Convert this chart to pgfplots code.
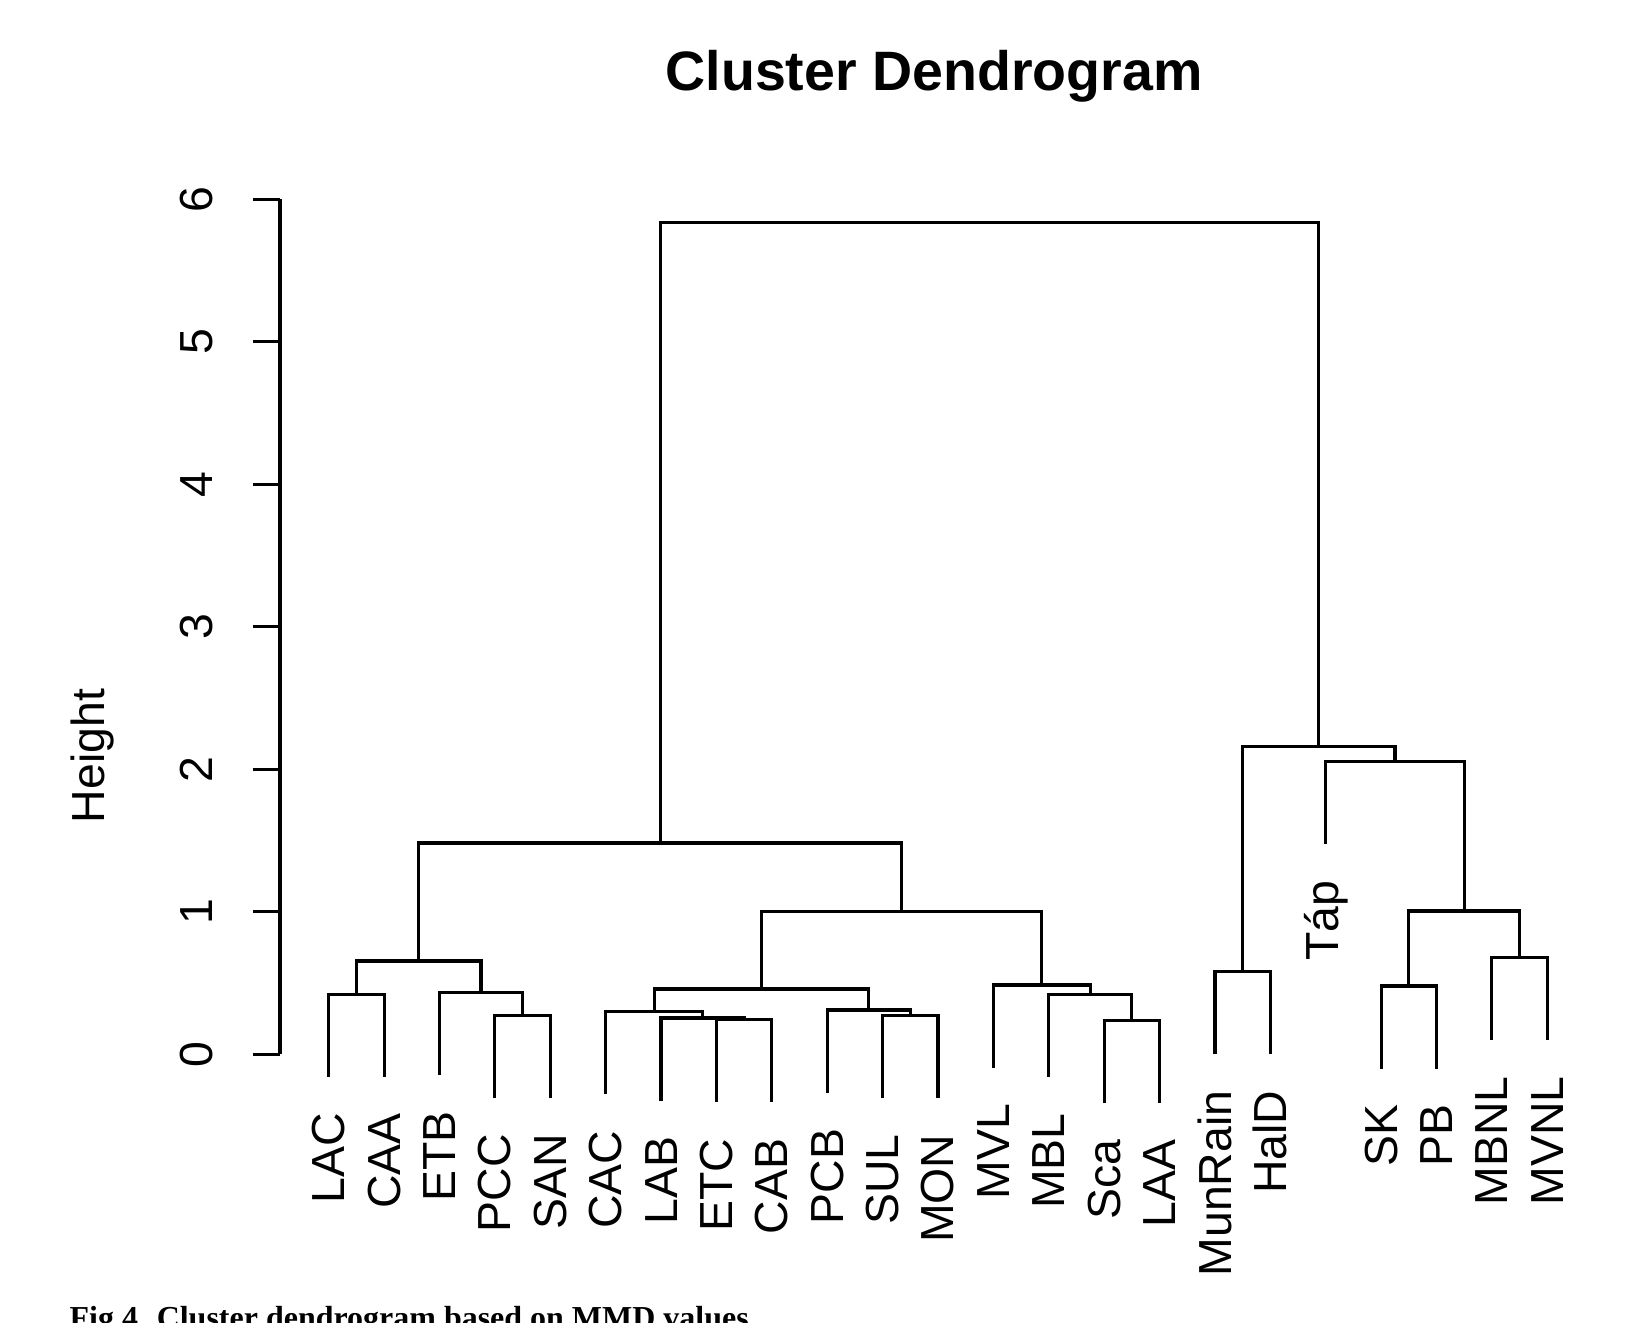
\documentclass[border=0pt]{standalone}
\usepackage{fontspec}
\setmainfont{Liberation Sans}
\newfontfamily\capfont{Liberation Serif}
\usepackage{pgfplots}
\pgfplotsset{compat=1.18}
\tikzset{
  seg/.style={black, line width=0.9pt, line join=miter, no marks},
  leaf/.style={rotate=90, anchor=east, inner sep=0pt,
               font=\fontsize{13.2}{15}\selectfont},
}

\begin{document}
\begin{tikzpicture}
\useasboundingbox (0,0) rectangle (162.6mm,132.3mm);

% title, axis label and the (cut) figure caption
\node[anchor=base, inner sep=0pt, font=\bfseries\fontsize{15.8}{18}\selectfont]
  at (93.4mm,123.2mm) {Cluster Dendrogram};
\node[rotate=90, anchor=base, inner sep=0pt, font=\fontsize{13.2}{15}\selectfont]
  at (10.45mm,56.7mm) {Height};
\node[anchor=base west, inner sep=0pt, font=\capfont\bfseries\fontsize{9.1}{11}\selectfont]
  at (6.9mm,-0.6mm) {Fig 4. Cluster dendrogram based on MMD values};

\begin{axis}[
    at={(28mm,26.87mm)}, anchor=south west,
    scale only axis,
    width=131.6mm, height=85.5mm,
    xmin=0.12, xmax=23.88, ymin=0, ymax=6,
    axis x line=none, axis y line*=left,
    axis line style={-, line width=0.9pt},
    xtick=\empty, ytick={0,1,...,6},
    tick align=outside, major tick length=2.73mm,
    tick style={black, line width=0.9pt},
    yticklabel style={rotate=90, anchor=south, inner sep=0pt,
                      font=\fontsize{13.2}{15}\selectfont},
    yticklabel shift=3.9mm,
    /pgf/number format/assume math mode=true,
    clip=false,
]
% merges, left to right
\addplot[seg] coordinates {(1,-0.159) (1,0.421) (2,0.421) (2,-0.159)};
\addplot[seg] coordinates {(4,-0.306) (4,0.274) (5,0.274) (5,-0.306)};
\addplot[seg] coordinates {(3,-0.145) (3,0.435) (4.5,0.435) (4.5,0.274)};
\addplot[seg] coordinates {(1.5,0.421) (1.5,0.655) (3.75,0.655) (3.75,0.435)};
\addplot[seg] coordinates {(8,-0.338) (8,0.242) (9,0.242) (9,-0.338)};
\addplot[seg] coordinates {(7,-0.325) (7,0.255) (8.5,0.255) (8.5,0.242)};
\addplot[seg] coordinates {(6,-0.281) (6,0.299) (7.75,0.299) (7.75,0.255)};
\addplot[seg] coordinates {(11,-0.309) (11,0.271) (12,0.271) (12,-0.309)};
\addplot[seg] coordinates {(10,-0.269) (10,0.311) (11.5,0.311) (11.5,0.271)};
\addplot[seg] coordinates {(6.875,0.299) (6.875,0.458) (10.75,0.458) (10.75,0.311)};
\addplot[seg] coordinates {(15,-0.344) (15,0.236) (16,0.236) (16,-0.344)};
\addplot[seg] coordinates {(14,-0.159) (14,0.421) (15.5,0.421) (15.5,0.236)};
\addplot[seg] coordinates {(13,-0.094) (13,0.486) (14.75,0.486) (14.75,0.421)};
\addplot[seg] coordinates {(8.8125,0.458) (8.8125,1.0) (13.875,1.0) (13.875,0.486)};
\addplot[seg] coordinates {(2.625,0.655) (2.625,1.483) (11.34375,1.483) (11.34375,1.0)};
\addplot[seg] coordinates {(17,0) (17,0.58) (18,0.58) (18,0)};
\addplot[seg] coordinates {(20,-0.101) (20,0.479) (21,0.479) (21,-0.101)};
\addplot[seg] coordinates {(22,0.098) (22,0.678) (23,0.678) (23,0.098)};
\addplot[seg] coordinates {(20.5,0.479) (20.5,1.006) (22.5,1.006) (22.5,0.678)};
\addplot[seg] coordinates {(19,1.473) (19,2.053) (21.5,2.053) (21.5,1.006)};
\addplot[seg] coordinates {(17.5,0.58) (17.5,2.159) (20.25,2.159) (20.25,2.053)};
\addplot[seg] coordinates {(6.984375,1.483) (6.984375,5.84) (18.875,5.84) (18.875,2.159)};

% leaf labels (0.25 below the leaf ends)
\node[leaf] at (axis cs:1,-0.409)  {LAC};
\node[leaf] at (axis cs:2,-0.409)  {CAA};
\node[leaf] at (axis cs:3,-0.395)  {ETB};
\node[leaf] at (axis cs:4,-0.556)  {PCC};
\node[leaf] at (axis cs:5,-0.556)  {SAN};
\node[leaf] at (axis cs:6,-0.531)  {CAC};
\node[leaf] at (axis cs:7,-0.575)  {LAB};
\node[leaf] at (axis cs:8,-0.588)  {ETC};
\node[leaf] at (axis cs:9,-0.588)  {CAB};
\node[leaf] at (axis cs:10,-0.519) {PCB};
\node[leaf] at (axis cs:11,-0.559) {SUL};
\node[leaf] at (axis cs:12,-0.559) {MON};
\node[leaf] at (axis cs:13,-0.344) {MVL};
\node[leaf] at (axis cs:14,-0.409) {MBL};
\node[leaf] at (axis cs:15,-0.594) {Sca};
\node[leaf] at (axis cs:16,-0.594) {LAA};
\node[leaf] at (axis cs:17,-0.25)  {MunRain};
\node[leaf] at (axis cs:18,-0.25)  {HalD};
\node[leaf] at (axis cs:19,1.223)  {Táp};
\node[leaf] at (axis cs:20,-0.351) {SK};
\node[leaf] at (axis cs:21,-0.351) {PB};
\node[leaf] at (axis cs:22,-0.152) {MBNL};
\node[leaf] at (axis cs:23,-0.152) {MVNL};
\end{axis}
\end{tikzpicture}
\end{document}
